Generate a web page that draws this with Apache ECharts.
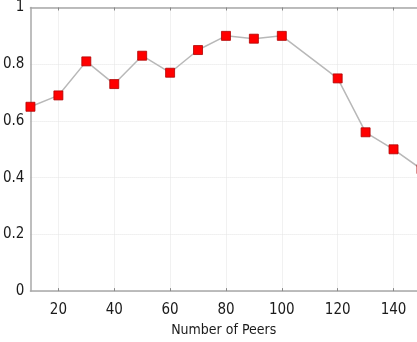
<!DOCTYPE html>
<html>
<head>
<meta charset="utf-8">
<script src="https://cdn.jsdelivr.net/npm/echarts@6/dist/echarts.min.js"></script>
<style>html,body{margin:0;padding:0;background:#fff}#c{width:417px;height:342px}</style>
</head>
<body>
<div id="c"></div>
<script>
var peers = [10, 20, 30, 40, 50, 60, 70, 80, 90, 100, 120, 130, 140, 150];
var values = [0.65, 0.69, 0.81, 0.73, 0.83, 0.77, 0.85, 0.90, 0.89, 0.90, 0.75, 0.56, 0.50, 0.43];
var xTicks = [20, 40, 60, 80, 100, 120, 140];
var xMin = 10, xMaxVisible = 148.4;
var xName = 'Number of Peers';

var font = "'Liberation Sans Narrow', 'DejaVu Sans Condensed', Arial, sans-serif";
var chart = echarts.init(document.getElementById('c'));
var axisGray = '#a8a8a8';
chart.setOption({
  animation: false,
  grid: { left: 29.5, right: 0, top: 6, bottom: 47.5 },
  xAxis: [{
    type: 'value', min: xMin, max: xMaxVisible, position: 'bottom',
    name: xName, nameLocation: 'middle', nameGap: 31,
    nameTextStyle: { color: '#1a1a1a', fontFamily: font, fontSize: 14 },
    axisLine: { show: true, lineStyle: { color: axisGray, width: 1.5 } },
    axisTick: { show: true, inside: true, length: 3, customValues: xTicks, lineStyle: { color: '#888' } },
    axisLabel: { customValues: xTicks, color: '#1a1a1a', fontFamily: font, fontSize: 15, margin: 12 },
    splitLine: { show: true, lineStyle: { color: '#e4e4e4', type: 'dotted', width: 1 } }
  }, {
    type: 'value', min: xMin, max: xMaxVisible, position: 'top',
    axisLine: { show: true, lineStyle: { color: axisGray, width: 1.5 } },
    axisTick: { show: true, inside: true, length: 3, customValues: xTicks, lineStyle: { color: '#888' } },
    axisLabel: { show: false },
    splitLine: { show: false }
  }],
  yAxis: {
    type: 'value', min: 0, max: 1, interval: 0.2,
    axisLine: { show: true, lineStyle: { color: axisGray, width: 1.5 } },
    axisTick: { show: false },
    axisLabel: { color: '#1a1a1a', fontFamily: font, fontSize: 15, margin: 6,
      formatter: function (v) { return String(parseFloat(v.toFixed(1))); } },
    splitLine: { show: true, lineStyle: { color: '#e4e4e4', type: 'dotted', width: 1 } }
  },
  series: [{
    type: 'line',
    xAxisIndex: 0,
    data: peers.map(function (p, i) { return [p, values[i]]; }),
    symbol: 'rect', symbolSize: 9, clip: false,
    lineStyle: { color: '#b8b8b8', width: 1.5 },
    itemStyle: { color: '#ff0000', borderColor: '#b00000', borderWidth: 0.8 }
  }]
});
</script>
</body>
</html>
